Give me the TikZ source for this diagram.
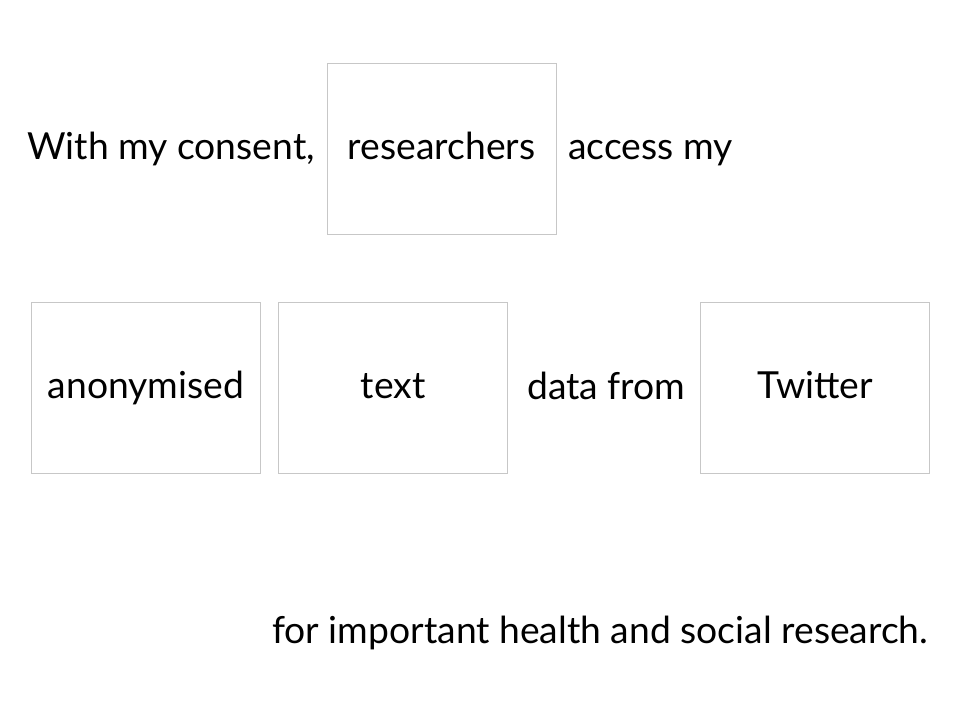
\documentclass[tikz,border=0pt]{standalone}
\usepackage{fontspec}
\setmainfont{Lato}
\usepackage{tikz}
\def\big{\fontsize{26.5}{32}\selectfont}

\begin{document}
\begin{tikzpicture}[
    box/.style={rectangle, draw=black!22, line width=0.6pt, minimum width=5.725cm, minimum height=4.275cm, inner sep=0pt, text height=0.6cm, text depth=0.06cm, font=\big},
    word/.style={inner sep=0pt, anchor=base west, font=\big}]
        \useasboundingbox (0,0) rectangle (24,-18);
        \coordinate (r) at (11.0375,-3.7125);
        \coordinate (an) at (3.65,-9.6875);
        \coordinate (tx) at (9.825,-9.6875);
        \coordinate (tw) at (20.375,-9.6875);
        \node[box] (researchers) at (r) {researchers};
        \node[box] (anonymised) at (an) {anonymised};
        \node[box] (text) at (tx) {text};
        \node[box] (twitter) at (tw) {Twitter};
        \node[word] (consent) at (0.675,-3.975) {With my consent,};
        \node[word] (access) at (14.2,-3.975) {access my};
        \node[word] (datafrom) at (13.175,-9.975) {data from};
        \node[word] (purpose) at (6.8,-16.075) {for important health and social research.};
      \end{tikzpicture}
\end{document}
